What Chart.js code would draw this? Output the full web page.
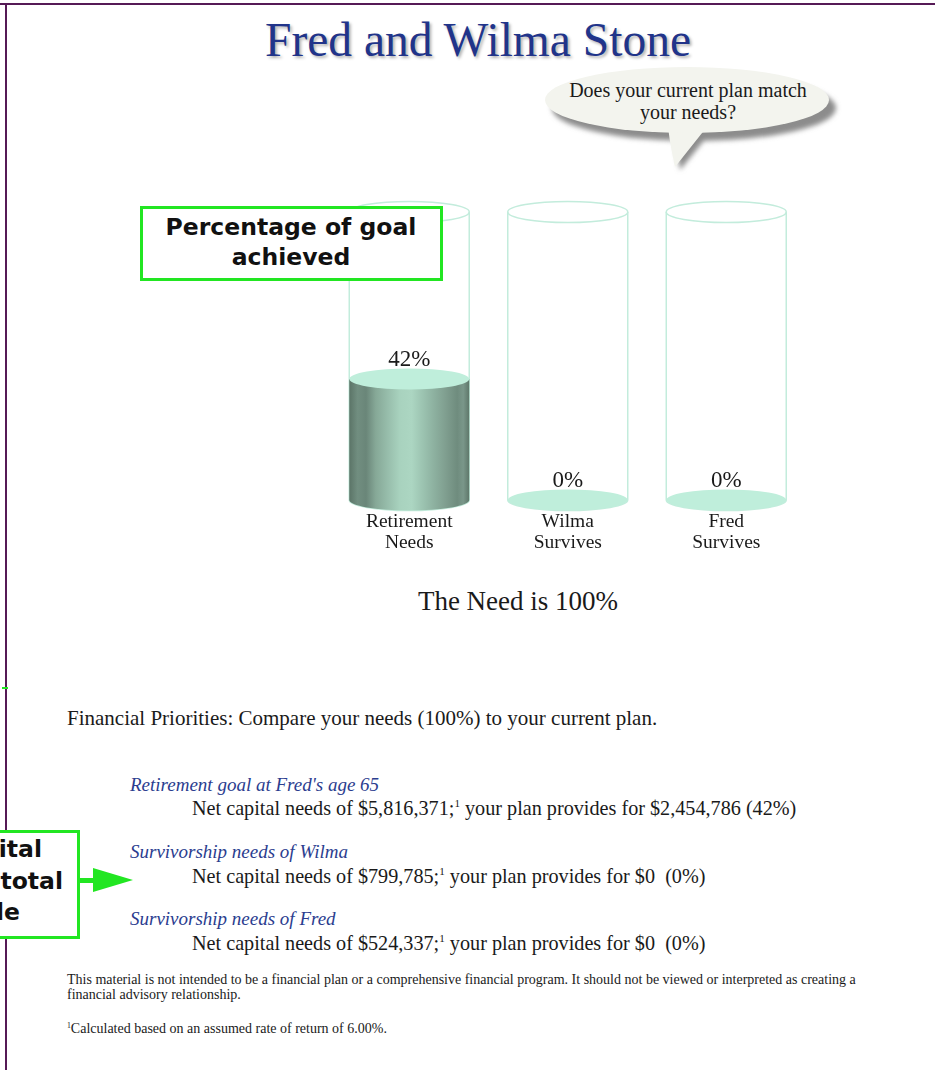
<!DOCTYPE html>
<html>
<head>
<meta charset="utf-8">
<script src="https://cdn.jsdelivr.net/npm/chart.js@4.4.0/dist/chart.umd.min.js"></script>
<style>
  body { margin: 0; width: 935px; height: 1070px; position: relative; overflow: hidden; background: #fff;
         font-family: "Liberation Serif", "Times New Roman", serif; color: #1a1a1a; }
  .t { position: absolute; white-space: nowrap; line-height: 1; }
  .c { text-align: center; }
  .sans { font-family: "DejaVu Sans", Verdana, sans-serif; font-weight: bold; color: #111; font-size: 23.5px; }
  .head { font-style: italic; color: #2b3d8f; font-size: 19px; }
  .net { font-size: 20.2px; }
  .small { font-size: 14px; }
  .box { position: absolute; box-sizing: border-box; border: 3px solid #22e622; background: #fff; }
  sup { font-size: 55%; vertical-align: 0.7em; line-height: 0; }
  #chart { position: absolute; left: 300px; top: 180px; }
  #deco { position: absolute; left: 0; top: 0; }
</style>
</head>
<body>
<svg id="deco" width="935" height="1070">
  <defs>
    <filter id="soft"><feGaussianBlur stdDeviation="2.5"/></filter>
  </defs>
  <!-- page frame -->
  <rect x="0" y="3" width="935" height="2" fill="#561a56"/>
  <rect x="5" y="3" width="2" height="1067" fill="#561a56"/>
  <rect x="2" y="687" width="6" height="2" fill="#22e622"/>
  <!-- speech bubble -->
  <g filter="url(#soft)" fill="#8c8c8c">
    <ellipse cx="694" cy="108" rx="142" ry="33"/>
    <path d="M674,130 C676,148 678,158 680,170 L711,132 Z"/>
  </g>
  <path d="M668,126 C670,145 673,157 675,167 L706,128 Z" fill="#f3f4ee"/>
  <ellipse cx="687" cy="100" rx="142" ry="33" fill="#f3f4ee"/>
  <!-- arrow to the second callout -->
  <rect x="78" y="878" width="18" height="5" fill="#22e622"/>
  <polygon points="93,868 133,880 93,892" fill="#22e622"/>
</svg>

<div class="t c" style="left:178px; width:600px; top:17px; font-size:47.5px; color:#21348a; text-shadow:2px 2px 3px rgba(0,0,0,0.3);">Fred and Wilma Stone</div>
<div class="t c" style="left:538px; width:300px; top:80px; font-size:20px;">Does your current plan match</div>
<div class="t c" style="left:538px; width:300px; top:102px; font-size:20px;">your needs?</div>

<canvas id="chart" width="540" height="400"></canvas>

<div class="box" style="left:140px; top:206px; width:303px; height:75px;"></div>
<div class="t c sans" style="left:141px; width:300px; top:216px;">Percentage of goal</div>
<div class="t c sans" style="left:141px; width:300px; top:246px;">achieved</div>

<div class="t c" style="left:368px; width:300px; top:588px; font-size:27px;">The Need is 100%</div>

<div class="t" style="left:67px; top:708px; font-size:21px;">Financial Priorities: Compare your needs (100%) to your current plan.</div>

<div class="t head" style="left:130px; top:775px;">Retirement goal at Fred's age 65</div>
<div class="t net" style="left:192px; top:798px;">Net capital needs of $5,816,371;<sup>1</sup> your plan provides for $2,454,786 (42%)</div>
<div class="t head" style="left:130px; top:842px;">Survivorship needs of Wilma</div>
<div class="t net" style="left:192px; top:866px;">Net capital needs of $799,785;<sup>1</sup> your plan provides for $0 &nbsp;(0%)</div>
<div class="t head" style="left:130px; top:909px;">Survivorship needs of Fred</div>
<div class="t net" style="left:192px; top:933px;">Net capital needs of $524,337;<sup>1</sup> your plan provides for $0 &nbsp;(0%)</div>

<div class="box" style="left:-200px; top:830px; width:280px; height:109px;"></div>
<div class="t sans" style="right:893px; top:838px;">ital</div>
<div class="t sans" style="right:872px; top:870px;">total</div>
<div class="t sans" style="right:915px; top:901px;">le</div>

<div class="t small" style="left:67px; top:973px;">This material is not intended to be a financial plan or a comprehensive financial program. It should not be viewed or interpreted as creating a</div>
<div class="t small" style="left:67px; top:988px;">financial advisory relationship.</div>
<div class="t small" style="left:67px; top:1022px;"><sup>1</sup>Calculated based on an assumed rate of return of 6.00%.</div>

<script>
// Categories and values
const categories = [['Retirement', 'Needs'], ['Wilma', 'Survives'], ['Fred', 'Survives']];
const needValues = [100, 100, 100];
const achievedValues = [42, 0, 0];
const valueLabels = ['42%', '0%', '0%'];

// draws each bar as a glass cylinder (outline = need, filled part = achieved)
const cylinderPlugin = {
    id: 'cylinders',
    afterDatasetsDraw(chart) {
        const ctx = chart.ctx;
        const needMeta = chart.getDatasetMeta(0);
        const fillMeta = chart.getDatasetMeta(1);
        needMeta.data.forEach((bar, i) => {
            const x = bar.x;
            const rx = bar.width / 2;
            const ry = 10.5;
            const top = bar.y;
            const base = bar.base;
            ctx.save();

            // outline of the full (100%) cylinder
            ctx.strokeStyle = '#c3ecdc';
            ctx.lineWidth = 1.5;
            ctx.beginPath();
            ctx.ellipse(x, top, rx, ry, 0, 0, Math.PI * 2);
            ctx.stroke();
            ctx.beginPath();
            ctx.moveTo(x - rx, top);
            ctx.lineTo(x - rx, base);
            ctx.ellipse(x, base, rx, ry, 0, Math.PI, 0, true);
            ctx.lineTo(x + rx, top);
            ctx.stroke();

            // filled part
            const fy = fillMeta.data[i].y;
            if (base - fy > 1) {
                const g = ctx.createLinearGradient(x - rx, 0, x + rx, 0);
                g.addColorStop(0, '#5b7467');
                g.addColorStop(0.07, '#718e80');
                g.addColorStop(0.14, '#6a8679');
                g.addColorStop(0.22, '#86a897');
                g.addColorStop(0.32, '#97bdab');
                g.addColorStop(0.42, '#a8d2be');
                g.addColorStop(0.52, '#acd6c2');
                g.addColorStop(0.6, '#9ec6b3');
                g.addColorStop(0.7, '#8eb2a1');
                g.addColorStop(0.8, '#809f90');
                g.addColorStop(0.9, '#6f8c7e');
                g.addColorStop(0.95, '#7a978a');
                g.addColorStop(1, '#5e776a');
                ctx.fillStyle = g;
                ctx.beginPath();
                ctx.moveTo(x - rx, fy);
                ctx.lineTo(x - rx, base);
                ctx.ellipse(x, base, rx, ry, 0, Math.PI, 0, true);
                ctx.lineTo(x + rx, fy);
                ctx.closePath();
                ctx.fill();
            }
            ctx.fillStyle = '#bfeedb';
            ctx.beginPath();
            ctx.ellipse(x, fy, rx, ry, 0, 0, Math.PI * 2);
            ctx.fill();

            // labels
            ctx.fillStyle = '#1a1a1a';
            ctx.textAlign = 'center';
            ctx.textBaseline = 'alphabetic';
            ctx.font = '23px "Liberation Serif", "Times New Roman", serif';
            ctx.fillText(valueLabels[i], x, fy - ry - 3);
            ctx.font = '19.5px "Liberation Serif", "Times New Roman", serif';
            chart.data.labels[i].forEach((s, k) => ctx.fillText(s, x, base + 27 + k * 21));
            ctx.restore();
        });
    }
};

new Chart(document.getElementById('chart'), {
    type: 'bar',
    data: {
        labels: categories,
        datasets: [
            { label: 'Need', data: needValues, backgroundColor: 'rgba(0,0,0,0)', borderWidth: 0, grouped: false },
            { label: 'Achieved', data: achievedValues, backgroundColor: 'rgba(0,0,0,0)', borderWidth: 0, grouped: false }
        ]
    },
    options: {
        responsive: false,
        animation: false,
        layout: { padding: { left: 30, right: 34.5, top: 32, bottom: 80 } },
        datasets: { bar: { barPercentage: 0.757, categoryPercentage: 1 } },
        scales: {
            x: { display: false },
            y: { display: false, min: 0, max: 100 }
        },
        plugins: { legend: { display: false }, tooltip: { enabled: false } }
    },
    plugins: [cylinderPlugin]
});
</script>
</body>
</html>
